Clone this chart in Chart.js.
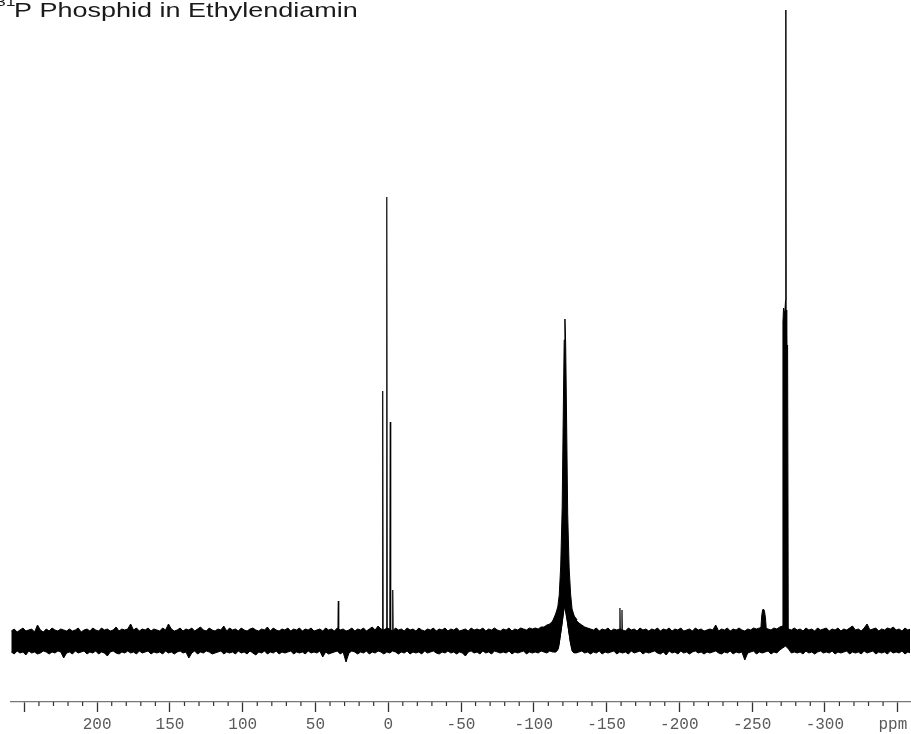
<!DOCTYPE html>
<html>
<head>
<meta charset="utf-8">
<title>31P Phosphid in Ethylendiamin</title>
<script src="https://cdn.jsdelivr.net/npm/chart.js"></script>
<style>
  html, body { margin: 0; padding: 0; background: #fff; }
  #spectrum { display: block; }
</style>
</head>
<body>
<canvas id="spectrum" width="911" height="734"></canvas>
<script>
// chemical shift axis, high field on the right
const ppmMin = -358.5
const ppmMax = 259.2
const majorTicks = [250, 200, 150, 100, 50, 0, -50, -100, -150, -200, -250, -300, -350]
// unit sits under the last tick, shifted left by a trailing space
const tickLabels = ['', '200', '150', '100', '50', '0', '-50', '-100', '-150', '-200', '-250', '-300', 'ppm ']

// baseline noise band, sampled every 2 ppm from 259 ppm downwards (upper / lower edge)
const bandStart = 259
const bandStep = 2
const bandHigh = [
  9, 11, 8, 10, 12, 9, 10, 11, 8, 15,
  10, 8, 11, 9, 12, 10, 9, 11, 10, 9,
  11, 9, 10, 12, 8, 10, 11, 9, 12, 10,
  9, 12, 10, 11, 9, 10, 13, 9, 11, 10,
  11, 16, 10, 12, 9, 11, 10, 12, 9, 11,
  10, 9, 12, 10, 16, 11, 9, 10, 12, 9,
  11, 10, 12, 9, 11, 13, 10, 9, 12, 10,
  9, 11, 10, 14, 9, 12, 10, 11, 9, 12,
  10, 9, 11, 12, 10, 9, 11, 10, 13, 9,
  12, 10, 9, 11, 10, 12, 9, 11, 10, 12,
  9, 11, 10, 12, 9, 10, 11, 9, 12, 10,
  11, 9, 12, 10, 11, 9, 10, 12, 9, 11,
  10, 12, 9, 11, 13, 10, 14, 11, 10, 12,
  11, 9, 12, 10, 11, 9, 12, 10, 11, 9,
  12, 10, 9, 11, 10, 12, 9, 11, 10, 12,
  9, 11, 10, 12, 9, 10, 11, 9, 12, 10,
  11, 10, 12, 9, 11, 10, 12, 10, 9, 11,
  10, 12, 9, 11, 10, 12, 11, 10, 12, 11,
  12, 11, 13, 13, 15, 16, 19, 24, 30, 25,
  40, 25, 30, 25, 20, 17, 15, 13, 12, 11,
  10, 12, 9, 11, 10, 12, 9, 11, 10, 11,
  10, 9, 12, 10, 11, 9, 12, 10, 11, 9,
  11, 10, 12, 9, 11, 10, 12, 9, 11, 10,
  12, 9, 10, 11, 9, 12, 10, 11, 9, 10,
  11, 10, 15, 9, 11, 10, 12, 9, 11, 10,
  12, 10, 9, 11, 10, 12, 11, 12, 13, 12,
  11, 10, 12, 11, 13, 14, 12, 11, 10, 12,
  10, 11, 9, 12, 10, 11, 9, 12, 10, 11,
  12, 9, 11, 10, 12, 9, 11, 10, 12, 14,
  10, 11, 9, 12, 16, 10, 11, 12, 9, 11,
  10, 12, 11, 13, 10, 11, 9, 12, 10, 11
]
const bandLow = [
  -12, -14, -11, -13, -12, -15, -11, -13, -12, -14,
  -13, -11, -12, -14, -12, -13, -11, -12, -18, -13,
  -12, -14, -11, -13, -12, -11, -14, -12, -13, -11,
  -14, -12, -13, -16, -12, -11, -13, -14, -12, -13,
  -11, -13, -12, -14, -11, -13, -12, -11, -14, -12,
  -13, -12, -14, -11, -13, -12, -14, -12, -11, -13,
  -12, -18, -13, -11, -14, -12, -13, -11, -12, -14,
  -13, -12, -11, -14, -12, -13, -12, -14, -11, -13,
  -12, -14, -11, -13, -15, -12, -13, -11, -14, -12,
  -13, -11, -14, -12, -13, -12, -11, -14, -12, -13,
  -12, -14, -11, -13, -12, -13, -11, -17, -12, -14,
  -13, -12, -11, -14, -12, -22, -13, -11, -12, -14,
  -12, -13, -11, -14, -12, -13, -11, -12, -14, -12,
  -13, -11, -12, -14, -12, -13, -11, -14, -12, -13,
  -12, -14, -11, -13, -12, -11, -13, -14, -12, -13,
  -11, -13, -12, -14, -12, -13, -16, -12, -11, -13,
  -12, -14, -11, -13, -12, -14, -11, -12, -13, -12,
  -13, -11, -14, -12, -13, -12, -11, -14, -12, -13,
  -12, -13, -11, -12, -13, -11, -12, -12, -8, 12,
  35, 19, -1, -12, -13, -12, -11, -13, -12, -14,
  -12, -13, -11, -14, -12, -13, -12, -11, -14, -12,
  -13, -12, -14, -11, -13, -12, -11, -14, -12, -13,
  -12, -11, -13, -14, -12, -15, -11, -13, -12, -14,
  -11, -13, -12, -14, -12, -11, -13, -12, -14, -12,
  -13, -12, -11, -13, -14, -12, -13, -11, -14, -12,
  -13, -12, -20, -13, -12, -11, -14, -12, -13, -12,
  -11, -14, -12, -13, -10, -8, -6, -9, -13, -12,
  -13, -12, -14, -11, -13, -12, -14, -12, -11, -13,
  -12, -13, -11, -14, -12, -13, -12, -11, -14, -12,
  -13, -12, -14, -11, -13, -12, -11, -14, -12, -13,
  -12, -14, -11, -13, -12, -13, -11, -14, -12, -13
]

// broad signal at -121 ppm (outer and inner edge of the noisy line)
const broadPpm = [-113, -115, -116.5, -117.5, -118.5, -119.5, -120.4, -120.9, -121.4, -121.9, -122.4, -123.3, -124.3, -125.3, -126.3, -127.8, -129.8]
const broadHigh = [19, 26, 33, 45, 74, 132, 244, 300, 321, 297, 238, 126, 72, 46, 31, 24, 20]
const broadLow = [-11, -12, -10, -3, 7, 17, 27, 32, 37, 33, 26, 16, 6, -4, -11, -13, -12]

// sharp lines
const linePpm = [34.3, 3.8, 1.0, -1.4, -3.1, -159.2, -160.6]
const lineHeight = [39, 249, 443, 218, 50, 32, 30]

// multiplet around -273 ppm
const multPpm = [-270.6, -271.2, -271.6, -272.4, -273.0, -273.2, -273.4, -273.8, -274.4, -274.9]
const multHeight = [0, 318, 332, 326, 340, 630, 330, 292, 295, 0]

// small broad signal at -258 ppm
const bumpPpm = [-255.8, -256.6, -257.2, -257.8, -258.5, -259.2, -260.0]
const bumpHeight = [6, 24, 30, 31, 29, 22, 6]

const pts = (xs, ys) => xs.map((x, i) => ({ x: x, y: ys[i] }))
const bandPts = ys => ys.map((y, i) => ({ x: bandStart - i * bandStep, y: y }))

const datasets = [
  { data: bandPts(bandHigh), fill: '+1' },
  { data: bandPts(bandLow), fill: false },
  { data: pts(broadPpm, broadHigh), fill: '+1' },
  { data: pts(broadPpm, broadLow), fill: false },
  { data: pts(multPpm, multHeight), fill: 'origin' },
  { data: pts(bumpPpm, bumpHeight), fill: 'origin' }
]
linePpm.forEach((p, i) => {
  datasets.push({
    data: [{ x: p + 0.3, y: 0 }, { x: p, y: lineHeight[i] }, { x: p - 0.3, y: 0 }],
    fill: false,
    borderWidth: 1.2
  })
})

// 10 ppm minor ticks under the axis line
const minorTicks = {
  id: 'minorTicks',
  afterDraw(chart) {
    const s = chart.scales.x
    const ctx = chart.ctx
    ctx.save()
    ctx.strokeStyle = '#333'
    ctx.lineWidth = 1.2
    for (let v = 250; v >= -350; v -= 10) {
      if (v % 50 === 0) continue
      const x = s.getPixelForValue(v)
      ctx.beginPath()
      ctx.moveTo(x, s.top)
      ctx.lineTo(x, s.top + 4)
      ctx.stroke()
    }
    ctx.restore()
  }
}

// heading in the upper left corner, wide sans
const heading = {
  id: 'heading',
  afterDraw(chart) {
    const ctx = chart.ctx
    ctx.save()
    ctx.fillStyle = '#1a1a1a'
    ctx.textBaseline = 'alphabetic'
    ctx.scale(1.35, 1)
    ctx.font = '13px "Liberation Sans", Arial, sans-serif'
    ctx.fillText('31', -4 / 1.35, 6)
    ctx.font = '20px "Liberation Sans", Arial, sans-serif'
    ctx.fillText('P Phosphid in Ethylendiamin', 14 / 1.35, 17)
    ctx.restore()
  }
}

new Chart(document.getElementById('spectrum'), {
  type: 'line',
  data: { datasets: datasets },
  options: {
    responsive: false,
    animation: false,
    devicePixelRatio: 1,
    layout: { padding: { left: 11, right: 1, top: 0, bottom: 0 } },
    elements: {
      point: { radius: 0 },
      line: { borderColor: '#000', backgroundColor: '#000', borderWidth: 1, tension: 0 }
    },
    plugins: {
      legend: { display: false },
      tooltip: { enabled: false }
    },
    scales: {
      x: {
        type: 'linear',
        reverse: true,
        min: ppmMin,
        max: ppmMax,
        afterBuildTicks: s => { s.ticks = majorTicks.map(v => ({ value: v })) },
        afterFit: s => {
          s.height = 32
          s.paddingLeft = 0
          s.paddingRight = 0
        },
        ticks: {
          callback: (v, i) => tickLabels[i],
          autoSkip: false,
          maxRotation: 0,
          padding: 4,
          color: '#5a5a5a',
          font: { family: 'Liberation Mono', size: 16, lineHeight: 1.1 }
        },
        grid: { drawOnChartArea: false, drawTicks: true, tickLength: 10, tickColor: '#333', tickWidth: 1.3 },
        border: { display: true, color: '#777', width: 1.3 }
      },
      y: { display: false, min: -62, max: 640 }
    }
  },
  plugins: [minorTicks, heading]
})
</script>
</body>
</html>
